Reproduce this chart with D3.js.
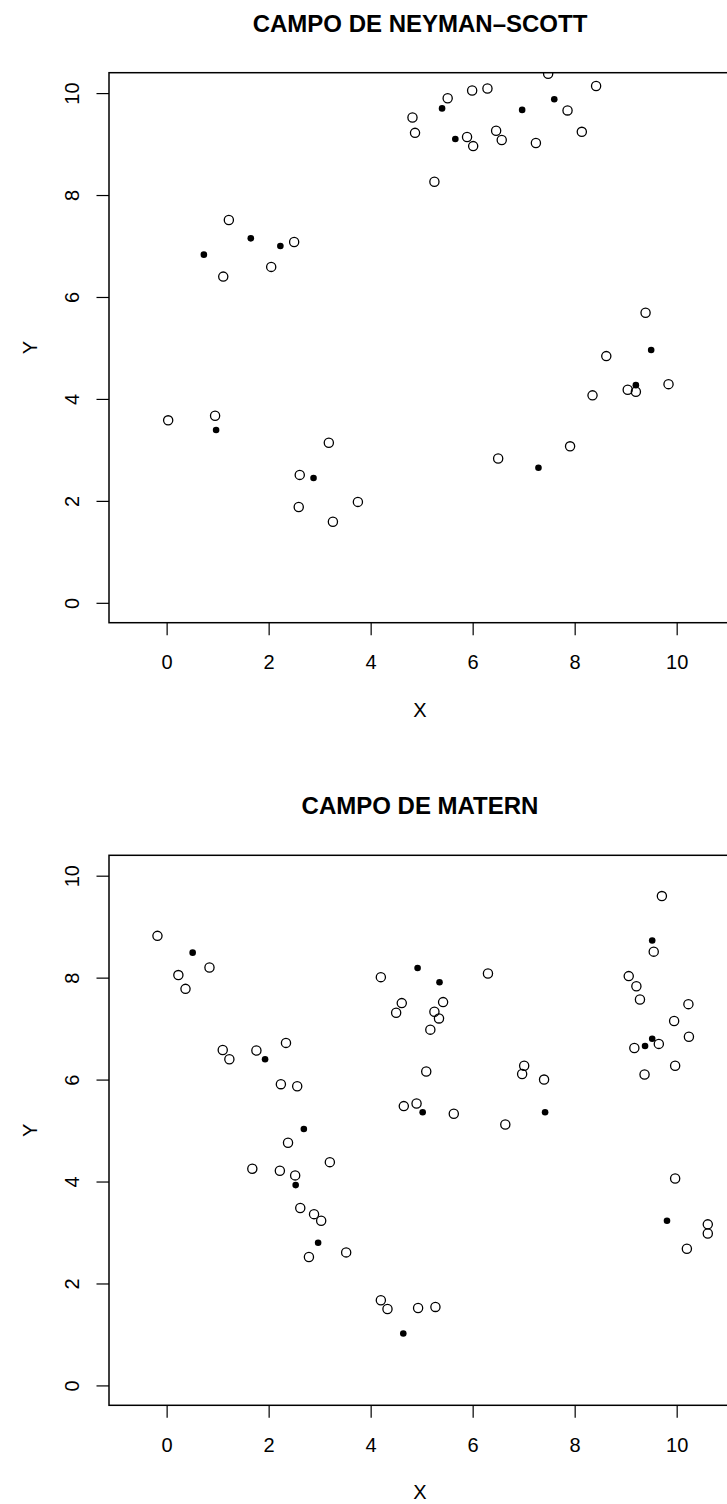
<!DOCTYPE html>
<html><head><meta charset="utf-8">
<script src="https://cdn.jsdelivr.net/npm/d3@7"></script>
<style>
body{margin:0;background:#fff;overflow:hidden}
text{font-family:"Liberation Sans",Arial,Helvetica,sans-serif;fill:#000}
</style>
</head><body>
<svg id="c" width="727" height="1504"></svg>
<script>
// ---- data ----
const titles = ["CAMPO DE NEYMAN–SCOTT", "CAMPO DE MATERN"];
const xLabel = "X", yLabel = "Y";
const xTicks = [0, 2, 4, 6, 8, 10];
const yTicks = [0, 2, 4, 6, 8, 10];

// Neyman-Scott: offspring (open) and parents (filled)
const nsChildX = [4.82,4.87,1.22,2.50,2.05,1.11,7.48,8.42,6.29,5.99,5.51,7.86,6.46,8.14,5.89,6.57,6.01,7.24,5.25,9.39,0.03,0.95,3.18,2.61,3.75,2.59,3.26,8.62,9.04,9.20,9.84,8.35,7.91,6.50];
const nsChildY = [9.52,9.22,7.51,7.08,6.59,6.40,10.38,10.14,10.09,10.05,9.90,9.66,9.26,9.24,9.14,9.08,8.96,9.02,8.26,5.69,3.58,3.67,3.14,2.51,1.98,1.88,1.59,4.84,4.18,4.14,4.29,4.07,3.07,2.83];
const nsParentX = [0.73,1.65,2.23,7.60,5.40,6.97,5.66,0.97,2.88,9.50,9.20,7.29];
const nsParentY = [6.83,7.15,7.00,9.88,9.70,9.67,9.10,3.39,2.45,4.96,4.27,2.65];

// Matern
const matChildX = [-0.18,0.84,0.23,0.37,1.10,1.23,1.76,2.34,2.24,2.56,4.20,4.61,4.50,4.65,4.90,9.71,9.55,6.30,5.42,5.25,5.34,5.17,9.06,9.21,9.28,10.23,9.95,10.24,9.65,9.17,9.97,9.37,5.09,7.01,6.97,7.40,5.63,6.64,2.38,3.20,1.68,2.22,2.52,2.62,2.89,3.03,2.79,3.52,4.20,4.33,4.93,5.27,9.97,10.61,10.61,10.20];
const matChildY = [8.82,8.20,8.05,7.78,6.58,6.40,6.57,6.72,5.91,5.87,8.01,7.50,7.31,5.48,5.53,9.60,8.51,8.08,7.52,7.33,7.20,6.98,8.03,7.83,7.57,7.48,7.15,6.84,6.70,6.62,6.27,6.10,6.16,6.27,6.11,6.00,5.33,5.12,4.76,4.38,4.25,4.21,4.12,3.48,3.36,3.23,2.52,2.61,1.67,1.50,1.52,1.54,4.06,3.16,2.98,2.68];
const matParentX = [0.51,1.93,2.69,4.92,5.35,9.52,9.52,9.38,5.02,7.42,2.53,2.97,4.64,9.81];
const matParentY = [8.49,6.40,5.03,8.19,7.91,8.73,6.80,6.66,5.36,5.36,3.93,2.80,1.02,3.23];

const panels = [
  {title: titles[0], cx: nsChildX, cy: nsChildY, px: nsParentX, py: nsParentY},
  {title: titles[1], cx: matChildX, cy: matChildY, px: matParentX, py: matParentY}
];

// ---- layout ----
const svg = d3.select("#c");
const boxL = 109, boxR = 731, boxH = 550;
const panelTops = [72.7, 855.3];
const xDomain = [-1.13, 11.065];
const yDomain = [-0.39, 10.40];

panels.forEach((p, i) => {
  const top = panelTops[i], bottom = top + boxH;
  const x = d3.scaleLinear().domain(xDomain).range([boxL, boxR]);
  const y = d3.scaleLinear().domain(yDomain).range([bottom, top]);
  const g = svg.append("g");

  // title
  g.append("text").attr("x", (boxL + boxR) / 2).attr("y", top - 41)
    .attr("text-anchor", "middle").attr("font-size", 24).attr("font-weight", "bold")
    .text(p.title);

  // clip
  const cid = "clip" + i;
  svg.append("clipPath").attr("id", cid).append("rect")
    .attr("x", boxL).attr("y", top).attr("width", boxR - boxL).attr("height", boxH);

  const pts = g.append("g").attr("clip-path", `url(#${cid})`);
  pts.selectAll("circle.o").data(p.cx.map((v, k) => [v, p.cy[k]])).join("circle")
    .attr("class", "o").attr("cx", d => x(d[0])).attr("cy", d => y(d[1])).attr("r", 4.6)
    .attr("fill", "none").attr("stroke", "#000").attr("stroke-width", 1.3);
  pts.selectAll("circle.f").data(p.px.map((v, k) => [v, p.py[k]])).join("circle")
    .attr("class", "f").attr("cx", d => x(d[0])).attr("cy", d => y(d[1])).attr("r", 3.3)
    .attr("fill", "#000");

  // axes
  const ax = d3.axisBottom(x).tickValues(xTicks).tickSize(12.5).tickSizeOuter(0).tickPadding(0).tickFormat(d3.format("d"));
  const xg = g.append("g").attr("transform", `translate(0,${bottom})`).call(ax);
  xg.select(".domain").remove();
  xg.selectAll("line").attr("stroke", "#000").attr("stroke-width", 1.2);
  xg.selectAll("text").attr("font-size", 20).attr("dy", null).attr("y", 46.3)
    .attr("font-family", "'Liberation Sans',Arial,sans-serif").attr("fill", "#000");

  const ay = d3.axisLeft(y).tickValues(yTicks).tickSize(12.5).tickSizeOuter(0).tickFormat(d3.format("d"));
  const yg = g.append("g").attr("transform", `translate(${boxL},0)`).call(ay);
  yg.select(".domain").remove();
  yg.selectAll("line").attr("stroke", "#000").attr("stroke-width", 1.2);
  yg.selectAll(".tick text").attr("font-size", 20).attr("x", null).attr("dy", null)
    .attr("font-family", "'Liberation Sans',Arial,sans-serif").attr("fill", "#000")
    .attr("text-anchor", "middle").attr("transform", "translate(-30,0) rotate(-90)");

  // box
  g.append("rect").attr("x", boxL).attr("y", top).attr("width", boxR - boxL).attr("height", boxH)
    .attr("fill", "none").attr("stroke", "#000").attr("stroke-width", 1.5);

  // axis titles
  g.append("text").attr("x", (boxL + boxR) / 2).attr("y", bottom + 94)
    .attr("text-anchor", "middle").attr("font-size", 20).text(xLabel);
  g.append("text").attr("transform", `translate(${boxL - 72},${(top + bottom) / 2}) rotate(-90)`)
    .attr("text-anchor", "middle").attr("font-size", 20).text(yLabel);
});
</script>
</body></html>
